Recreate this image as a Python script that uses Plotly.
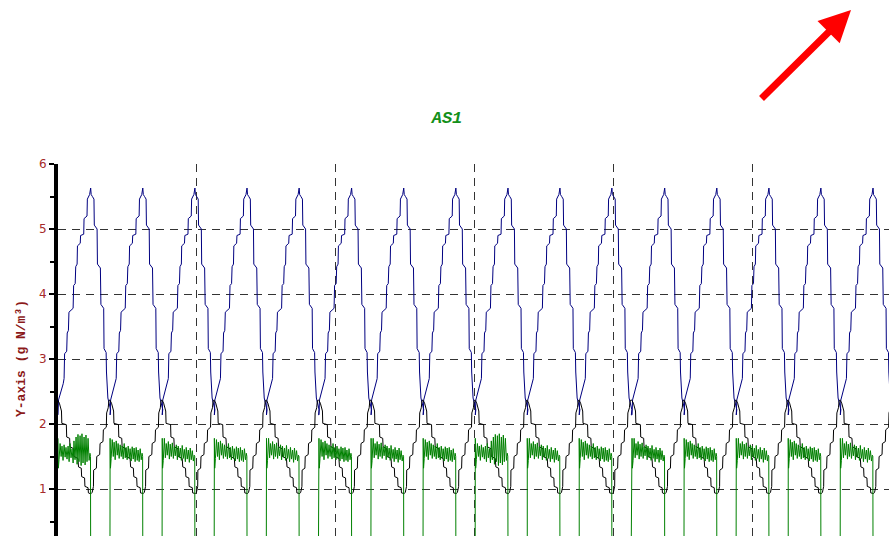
import plotly.graph_objects as go

# ---- data (time in hours, concentration in g N/m3) ----
PEAK_TIMES_H = [1.88, 4.88, 7.88, 10.88, 13.88, 16.90, 19.90, 22.90,
                25.90, 28.89, 31.88, 34.92, 37.92, 40.92, 43.91, 46.91]

# one cycle of each series, offsets (h) relative to the blue peak time
BLUE_OFFSETS_H = [-1.88, -1.85, -1.58, -1.53, -1.50, -1.38, -1.35, -1.28, -1.25, -1.01,
                  -0.98, -0.89, -0.86, -0.78, -0.76, -0.60, -0.58, -0.40, -0.38, -0.21,
                  -0.19, -0.10, -0.06, 0.00, 0.03, 0.10, 0.19, 0.21, 0.37, 0.39,
                  0.56, 0.59, 0.75, 0.77, 0.89, 0.91, 0.97, 0.99, 1.15, 1.12]
BLUE_VALUES = [2.14, 2.37, 2.62, 2.70, 3.08, 3.12, 3.40, 3.44, 3.72, 3.78,
               4.13, 4.16, 4.42, 4.46, 4.74, 4.78, 4.90, 4.92, 5.16, 5.20,
               5.46, 5.50, 5.53, 5.63, 5.53, 5.50, 5.46, 5.06, 5.00, 4.46,
               4.40, 3.84, 3.78, 3.16, 3.10, 2.80, 2.42, 2.40, 2.22, 2.14]

BLACK_OFFSETS_H = [-1.88, -1.80, -1.68, -1.66, -1.40, -1.38, -1.21, -1.19, -0.98, -0.96,
                   -0.73, -0.70, -0.54, -0.52, -0.35, -0.33, -0.15, -0.13, -0.04, 0.03,
                   0.09, 0.16, 0.17, 0.33, 0.35, 0.52, 0.54, 0.71, 0.73, 0.90,
                   0.92, 1.01, 1.05, 1.11]
BLACK_VALUES = [2.36, 2.32, 2.20, 2.01, 1.99, 1.80, 1.78, 1.65, 1.62, 1.50,
                1.47, 1.34, 1.32, 1.19, 1.17, 1.04, 1.02, 0.94, 0.93, 0.93,
                0.95, 1.04, 1.29, 1.32, 1.50, 1.53, 1.70, 1.73, 1.91, 1.95,
                2.17, 2.25, 2.36, 2.37]

GREEN_OFFSETS_H = [-1.88, -1.86, -1.82, -1.76, -1.70, -1.65, -1.59, -1.53, -1.47, -1.42,
                   -1.36, -1.30, -1.24, -1.19, -1.13, -1.07, -1.01, -0.96, -0.90, -0.84,
                   -0.78, -0.73, -0.67, -0.61, -0.55, -0.50, -0.44, -0.38, -0.32, -0.27,
                   -0.21, -0.15, -0.09, -0.04, -0.01, 0.00, 1.11]
GREEN_START = [1.78, 1.32]
GREEN_END = [1.50, 0.0, 0.0]
GREEN_A = [1.47, 1.76, 1.50, 1.72, 1.45, 1.74, 1.52, 1.70, 1.47, 1.68, 1.50, 1.66, 1.46, 1.70, 1.48, 1.64,
           1.45, 1.66, 1.47, 1.62, 1.43, 1.65, 1.46, 1.63, 1.42, 1.64, 1.44, 1.60, 1.42, 1.62, 1.45, 1.55]
GREEN_B = [1.45, 1.70, 1.50, 1.66, 1.44, 1.68, 1.49, 1.64, 1.46, 1.66, 1.42, 1.70, 1.48, 1.62, 1.40, 1.74,
           1.45, 1.80, 1.38, 1.84, 1.42, 1.82, 1.36, 1.85, 1.40, 1.80, 1.37, 1.83, 1.42, 1.78, 1.44, 1.55]
GREEN_C = [1.44, 1.78, 1.48, 1.70, 1.52, 1.73, 1.46, 1.69, 1.50, 1.71, 1.47, 1.65, 1.51, 1.68, 1.45, 1.66,
           1.49, 1.63, 1.44, 1.67, 1.47, 1.61, 1.42, 1.64, 1.46, 1.60, 1.41, 1.63, 1.45, 1.59, 1.43, 1.52]
GREEN_PATTERN_BY_CYCLE = ["B", "A", "C", "A", "C", "A", "C", "A",
                          "B", "C", "A", "C", "A", "C", "A", "C"]

TITLE = "AS1"
Y_TITLE = "Y-axis (g N/m³)"

# ---- build series ----
patterns = {"A": GREEN_A, "B": GREEN_B, "C": GREEN_C}
bx, by, kx, ky, gx, gy = [], [], [], [], [], []
for t0, pat in zip(PEAK_TIMES_H, GREEN_PATTERN_BY_CYCLE):
    bx += [t0 + o for o in BLUE_OFFSETS_H]
    by += BLUE_VALUES
    kx += [t0 + o for o in BLACK_OFFSETS_H]
    ky += BLACK_VALUES
    gx += [t0 + o for o in GREEN_OFFSETS_H]
    gy += GREEN_START + patterns[pat] + GREEN_END

fig = go.Figure()
fig.add_trace(go.Scatter(x=bx, y=by, mode="lines", line=dict(color="#000080", width=1), showlegend=False))
fig.add_trace(go.Scatter(x=kx, y=ky, mode="lines", line=dict(color="#000000", width=1), showlegend=False))
fig.add_trace(go.Scatter(x=gx, y=gy, mode="lines", line=dict(color="#008000", width=1), showlegend=False))

W, H = 889, 536
L, T = 58, 164
pw, ph = W - L, H - T

fig.update_layout(
    width=W, height=H,
    margin=dict(l=L, r=0, t=T, b=0, pad=0),
    paper_bgcolor="white", plot_bgcolor="white",
    showlegend=False,
    title=dict(text=TITLE, x=447 / W, xref="container", xanchor="center",
               y=1 - 117 / H, yref="container", yanchor="middle",
               font=dict(family="Liberation Mono", size=17, color="#14901a",
                         weight="bold", style="italic")),
    xaxis=dict(range=[0, 47.83], tick0=0, dtick=8, showgrid=True, gridcolor="#333333",
               griddash="8px,6px", gridwidth=1, showticklabels=False, ticks="",
               showline=False, zeroline=False, automargin=False),
    yaxis=dict(range=[6 - ph / 65.0, 6], tick0=0, dtick=1, showgrid=True, gridcolor="#333333",
               griddash="8px,6px", gridwidth=1, showline=True, linewidth=4, linecolor="black",
               ticks="outside", ticklen=5, tickwidth=2, tickcolor="black",
               tickfont=dict(family="DejaVu Sans", size=12, color="#a52a2a"),
               zeroline=False, automargin=False,
               minor=dict(dtick=0.5, ticks="outside", ticklen=4, tickwidth=2,
                          tickcolor="black", showgrid=False)),
    annotations=[
        dict(text=Y_TITLE, textangle=-90, xref="paper", yref="paper",
             x=(21 - L) / pw, y=(H - 359) / ph, xanchor="center", yanchor="middle",
             showarrow=False,
             font=dict(family="Liberation Mono", size=13, color="#8b1a1a", weight="bold")),
        dict(text="", xref="paper", yref="paper",
             x=(851 - L) / pw, y=(H - 10) / ph, showarrow=True,
             arrowhead=2, arrowsize=0.9, arrowwidth=7, arrowcolor="red",
             ax=-91, ay=90),
    ],
)

fig.write_html(
    "out.html",
    config={"displayModeBar": False},
    post_script="document.body.style.margin='0';document.body.style.overflow='hidden';",
)
